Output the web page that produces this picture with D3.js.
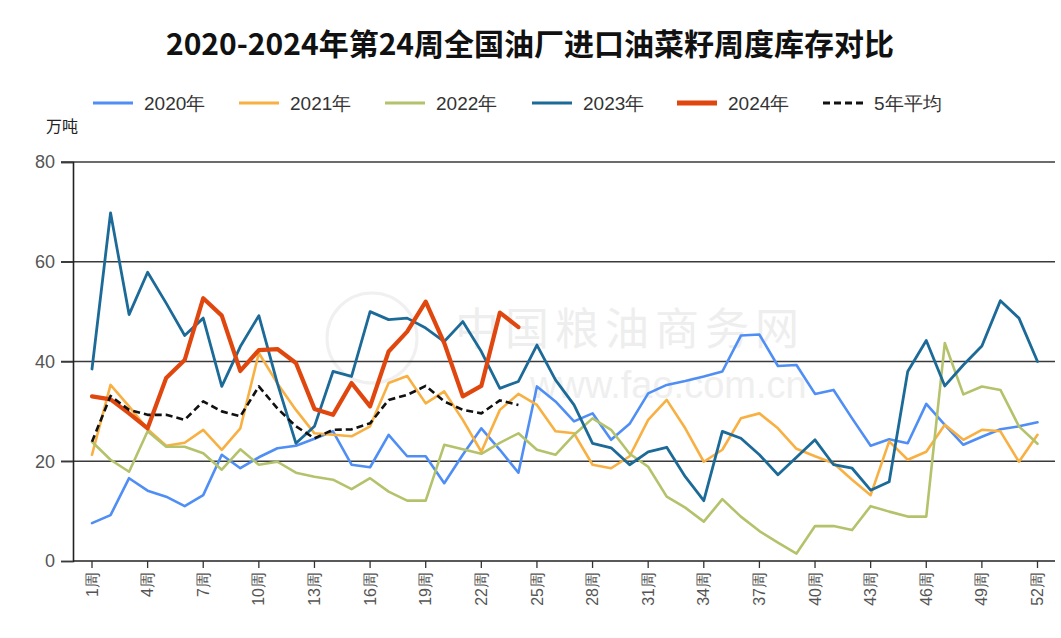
<!DOCTYPE html>
<html><head><meta charset="utf-8">
<script src="https://cdn.jsdelivr.net/npm/d3@7"></script>
<style>
html,body{margin:0;padding:0;background:#fff;}
svg{display:block;}
</style></head>
<body>
<svg id="chart" width="1061" height="638"></svg>
<script>
const weeks = d3.range(1, 53);
const tickWeeks = [1,4,7,10,13,16,19,22,25,28,31,34,37,40,43,46,49,52];
const yTicks = [0,20,40,60,80];

const s2020 = [7.6,9.2,16.6,14.1,12.9,11,13.2,21.3,18.6,20.8,22.6,23.1,24.5,26,19.3,18.8,25.3,21,21,15.6,21.3,26.6,22.3,17.7,35,32,28,29.6,24.3,27.5,33.6,35.3,36.1,37,38,45.2,45.4,39.1,39.3,33.5,34.3,28.6,23.1,24.4,23.6,31.5,27.3,23.3,24.9,26.4,27,27.8];
const s2021 = [21.3,35.3,31,26.4,23.1,23.7,26.3,22.3,26.6,41.7,35.6,30.3,25.6,25.3,25,27,35.7,37.1,31.6,34,28.3,21.9,30.3,33.5,31.3,26,25.6,19.3,18.6,21,28.3,32.3,26.6,19.9,22.3,28.6,29.6,26.6,22.5,21,19.6,16.3,13.2,24,20.3,21.9,27.3,24.3,26.3,26,19.9,25.3];
const s2022 = [23.9,20.3,17.9,26,22.9,22.9,21.6,18.3,22.4,19.3,19.9,17.7,16.9,16.3,14.4,16.6,13.9,12.1,12.1,23.3,22.4,21.5,23.7,25.6,22.3,21.3,25.3,28.6,26.3,21.5,18.9,12.9,10.7,7.9,12.4,8.9,6,3.7,1.5,7,7,6.2,11,9.9,8.9,8.9,43.7,33.4,35,34.3,27,23.5];
const s2023 = [38.5,69.8,49.4,57.9,51.7,45.2,48.7,35,43,49.2,35.6,23.6,27,38,37,50,48.4,48.7,46.7,44,48,42,34.6,36,43.3,36.3,31.3,23.6,22.7,19.3,21.9,22.8,16.9,12.1,26,24.6,21.3,17.3,20.8,24.3,19.3,18.6,14.2,15.9,38,44.2,35.1,39.3,43.1,52.2,48.7,40];
const s2024 = [33,32.4,29.6,26.6,36.7,40.3,52.7,49.2,38.1,42.3,42.5,39.7,30.5,29.3,35.7,31,42,46,52,43.7,33,35.1,49.8,46.9];
const sAvg = [23.9,33.1,30.3,29.3,29.3,28.3,32,30,29,35,30.6,27,24.6,26.3,26.4,27.6,32.3,33.3,35.1,32,30.3,29.6,32.2,31.3];

const seriesNames = ["2020年","2021年","2022年","2023年","2024年","5年平均"];
const seriesData = [s2020, s2021, s2022, s2023, s2024, sAvg];
const colors = ["#4F8EF5","#F8B043","#B4C36B","#1C6A98","#E0470F","#111111"];
const widths = [2.6,2.6,2.6,2.8,4.2,2.6];
const dashes = [null,null,null,null,null,"7,4"];

const svg = d3.select("#chart");
svg.append("rect").attr("width",1061).attr("height",638).attr("fill","#fff");

const x = d3.scalePoint().domain(weeks).range([92, 1037.5]);
const y = d3.scaleLinear().domain([0, 80]).range([561, 162]);
const xLeft = 73, xRight = 1055;

// title
svg.append("text").attr("x", 530).attr("y", 55).attr("text-anchor","middle")
  .attr("font-family","'Noto Sans CJK SC', sans-serif").attr("font-weight","700")
  .attr("font-size", 30).attr("fill","#111")
  .text("2020-2024年第24周全国油厂进口油菜籽周度库存对比");

// watermark
const wm = svg.append("g").attr("opacity",0.4);
wm.append("circle").attr("cx",372).attr("cy",338).attr("r",45).attr("fill","none").attr("stroke","#dcdcdc").attr("stroke-width",3);
wm.append("text").attr("x",455).attr("y",345).attr("font-family","'Noto Sans CJK SC', sans-serif")
  .attr("font-size",44).attr("fill","#d6d6d6").attr("letter-spacing",6).text("中国粮油商务网");
wm.append("text").attr("x",530).attr("y",398).attr("font-family","'Liberation Sans', Arial, sans-serif")
  .attr("font-size",38).attr("fill","#d8d8d8").text("www.fao.com.cn");

// gridlines
svg.append("g").selectAll("line").data(yTicks.filter(d=>d>0)).join("line")
  .attr("x1", 61).attr("x2", xRight).attr("y1", d=>y(d)).attr("y2", d=>y(d))
  .attr("stroke","#3a3a3a").attr("stroke-width",1.4);

// y axis
const yAxis = d3.axisLeft(y).tickValues(yTicks).tickSize(12).tickPadding(6).tickFormat(d3.format("d"));
const gy = svg.append("g").attr("transform",`translate(${xLeft},0)`).call(yAxis);
gy.select(".domain").attr("stroke","#222").attr("stroke-width",1.6);
gy.selectAll(".tick line").attr("stroke","#3a3a3a").attr("stroke-width",1.4);
gy.selectAll(".tick text").attr("font-family","'Liberation Sans', Arial, sans-serif")
  .attr("font-size",18).attr("fill","#555");

// x axis
svg.append("line").attr("x1",xLeft).attr("x2",xRight).attr("y1",y(0)).attr("y2",y(0))
  .attr("stroke","#222").attr("stroke-width",1.6);
const gx = svg.append("g");
gx.selectAll("line").data(tickWeeks).join("line")
  .attr("x1",d=>x(d)).attr("x2",d=>x(d)).attr("y1",y(0)).attr("y2",y(0)+7)
  .attr("stroke","#333").attr("stroke-width",1.3);
gx.selectAll("text").data(tickWeeks).join("text")
  .attr("transform",d=>`translate(${x(d)},${y(0)+11}) rotate(-90)`)
  .attr("text-anchor","end").attr("dy","0.35em")
  .attr("font-family","'Liberation Sans', Arial, sans-serif").attr("font-size",16).attr("fill","#555")
  .text(d=>d+"周");

// unit label
svg.append("text").attr("x",46).attr("y",132).attr("font-family","'Noto Sans CJK SC', sans-serif")
  .attr("font-size",16).attr("fill","#222").text("万吨");

// lines
const line = d3.line().x((d,i)=>x(weeks[i])).y(d=>y(d));
seriesData.forEach((data,k)=>{
  svg.append("path").datum(data).attr("d",line)
    .attr("fill","none").attr("stroke",colors[k]).attr("stroke-width",widths[k])
    .attr("stroke-linejoin","round").attr("stroke-linecap", dashes[k] ? "butt" : "round")
    .attr("stroke-dasharray",dashes[k]);
});

// legend
const legendX = [93, 239, 385, 532, 677, 823];
const lg = svg.append("g");
seriesNames.forEach((name,k)=>{
  lg.append("line").attr("x1",legendX[k]).attr("x2",legendX[k]+40).attr("y1",103).attr("y2",103)
    .attr("stroke",colors[k]).attr("stroke-width",k===4?5:3).attr("stroke-dasharray",dashes[k]);
  lg.append("text").attr("x",legendX[k]+51).attr("y",110)
    .attr("font-family","'Liberation Sans', Arial, sans-serif").attr("font-size",19).attr("fill","#333")
    .text(name);
});
</script>
</body></html>
